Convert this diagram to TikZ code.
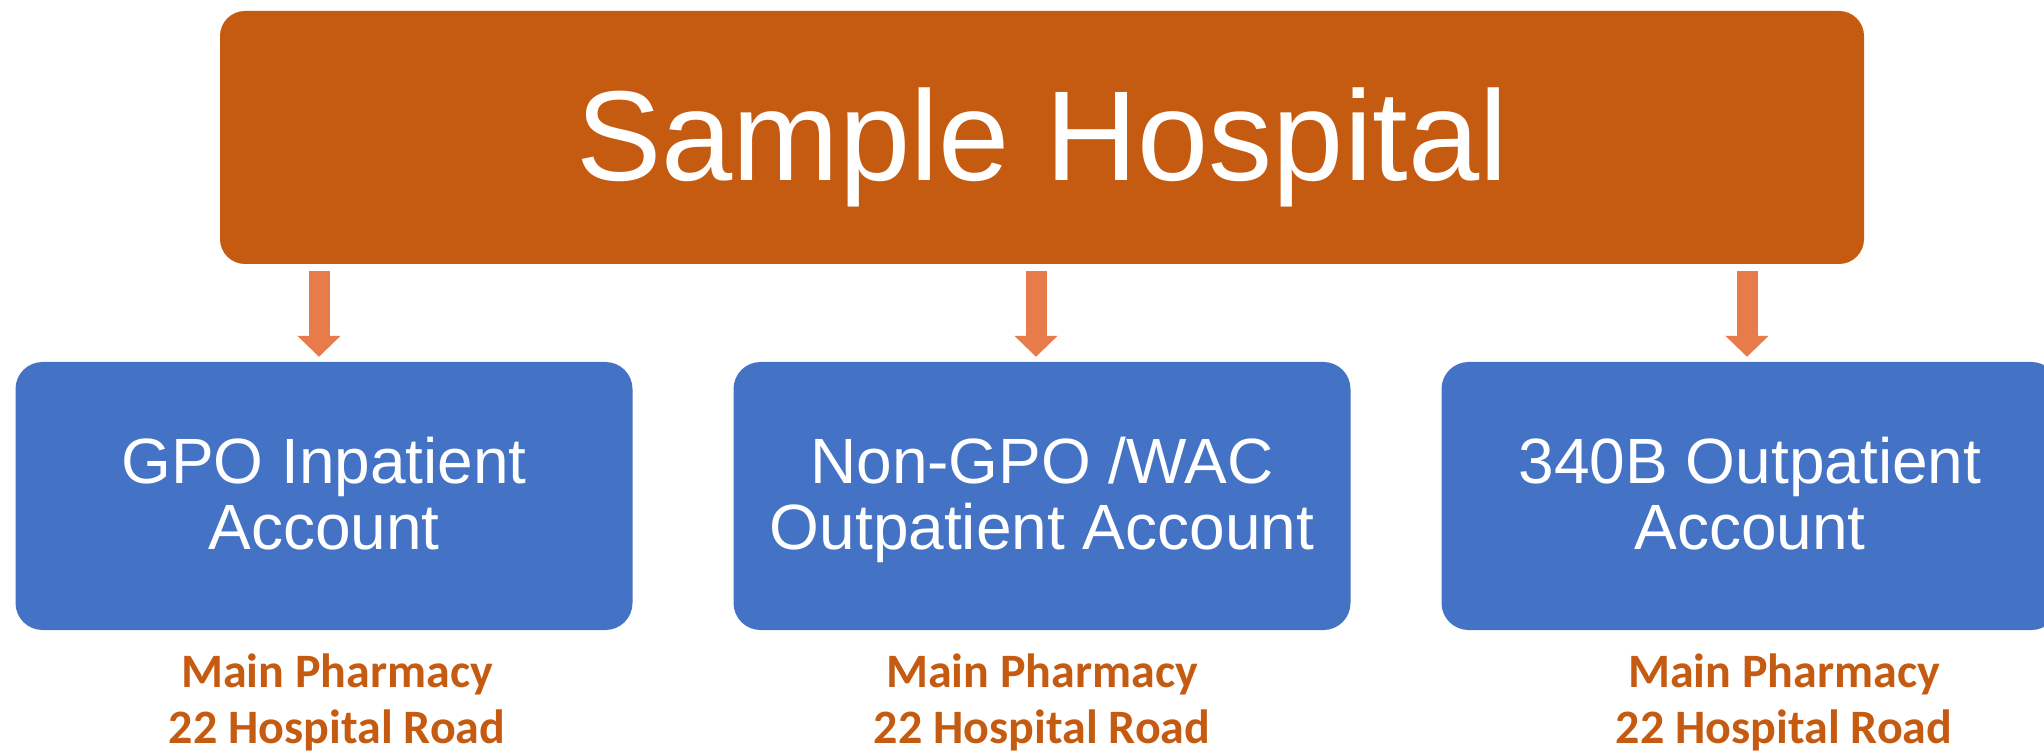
\documentclass[tikz,border=0pt]{standalone}
\usepackage{fontspec}
\setmainfont{Liberation Sans}
\newfontfamily\addrfont{Carlito}
\usetikzlibrary{arrows.meta}
\definecolor{hosporange}{HTML}{C55A11}
\definecolor{flowpeach}{HTML}{E87B4A}
\definecolor{acctblue}{HTML}{4472C4}
\newcommand{\upstrut}[1]{\rule{0pt}{#1}}
\newcommand{\downstrut}[1]{\rule[-#1]{0pt}{#1}}

\begin{document}
\begin{tikzpicture}[x=0.5pt,y=-0.5pt,
    hospital/.style={fill=hosporange, rounded corners=12.5pt, minimum width=822pt, minimum height=126.5pt, inner sep=0pt, text=white, font=\fontsize{64}{70}\selectfont, text height=48pt, text depth=4.5pt},
    account/.style={fill=acctblue, rounded corners=13.5pt, minimum width=308.5pt, minimum height=134pt, inner sep=0pt, text=white, align=center, font=\fontsize{32}{33}\selectfont},
    address/.style={text=hosporange, align=center, font=\addrfont\bfseries\fontsize{24}{28}\selectfont},
    flow/.style={draw=flowpeach, line width=10.5pt, -{Triangle[width=21pt,length=10.5pt]}, shorten <=3.5pt, shorten >=2.4pt}]
    \useasboundingbox (0,0) rectangle (2044,753);
    \node[hospital] (hosp) at (1042,137.5) {Sample Hospital};
    \node[account] (gpo) at (324,496) {\upstrut{27pt}GPO Inpatient\\Account\downstrut{7pt}};
    \node[account] (wac) at (1042,496) {\upstrut{27pt}Non-GPO /WAC\\Outpatient Account\downstrut{7pt}};
    \node[account] (bee) at (1750,496) {\upstrut{27pt}340B Outpatient\\Account\downstrut{7pt}};
    \draw[flow] ([xshift=-2.5pt]gpo.north |- hosp.south) -- ([xshift=-2.5pt]gpo.north);
    \draw[flow] ([xshift=-3pt]wac.north |- hosp.south) -- ([xshift=-3pt]wac.north);
    \draw[flow] ([xshift=-1.5pt]bee.north |- hosp.south) -- ([xshift=-1.5pt]bee.north);
    \node[address] (gpoaddr) at (337,703) {\upstrut{17pt}Main Pharmacy\\22 Hospital Road\downstrut{5pt}};
    \node[address] (wacaddr) at (1042,703) {\upstrut{17pt}Main Pharmacy\\22 Hospital Road\downstrut{5pt}};
    \node[address] (beeaddr) at (1784,703) {\upstrut{17pt}Main Pharmacy\\22 Hospital Road\downstrut{5pt}};
\end{tikzpicture}
\end{document}
